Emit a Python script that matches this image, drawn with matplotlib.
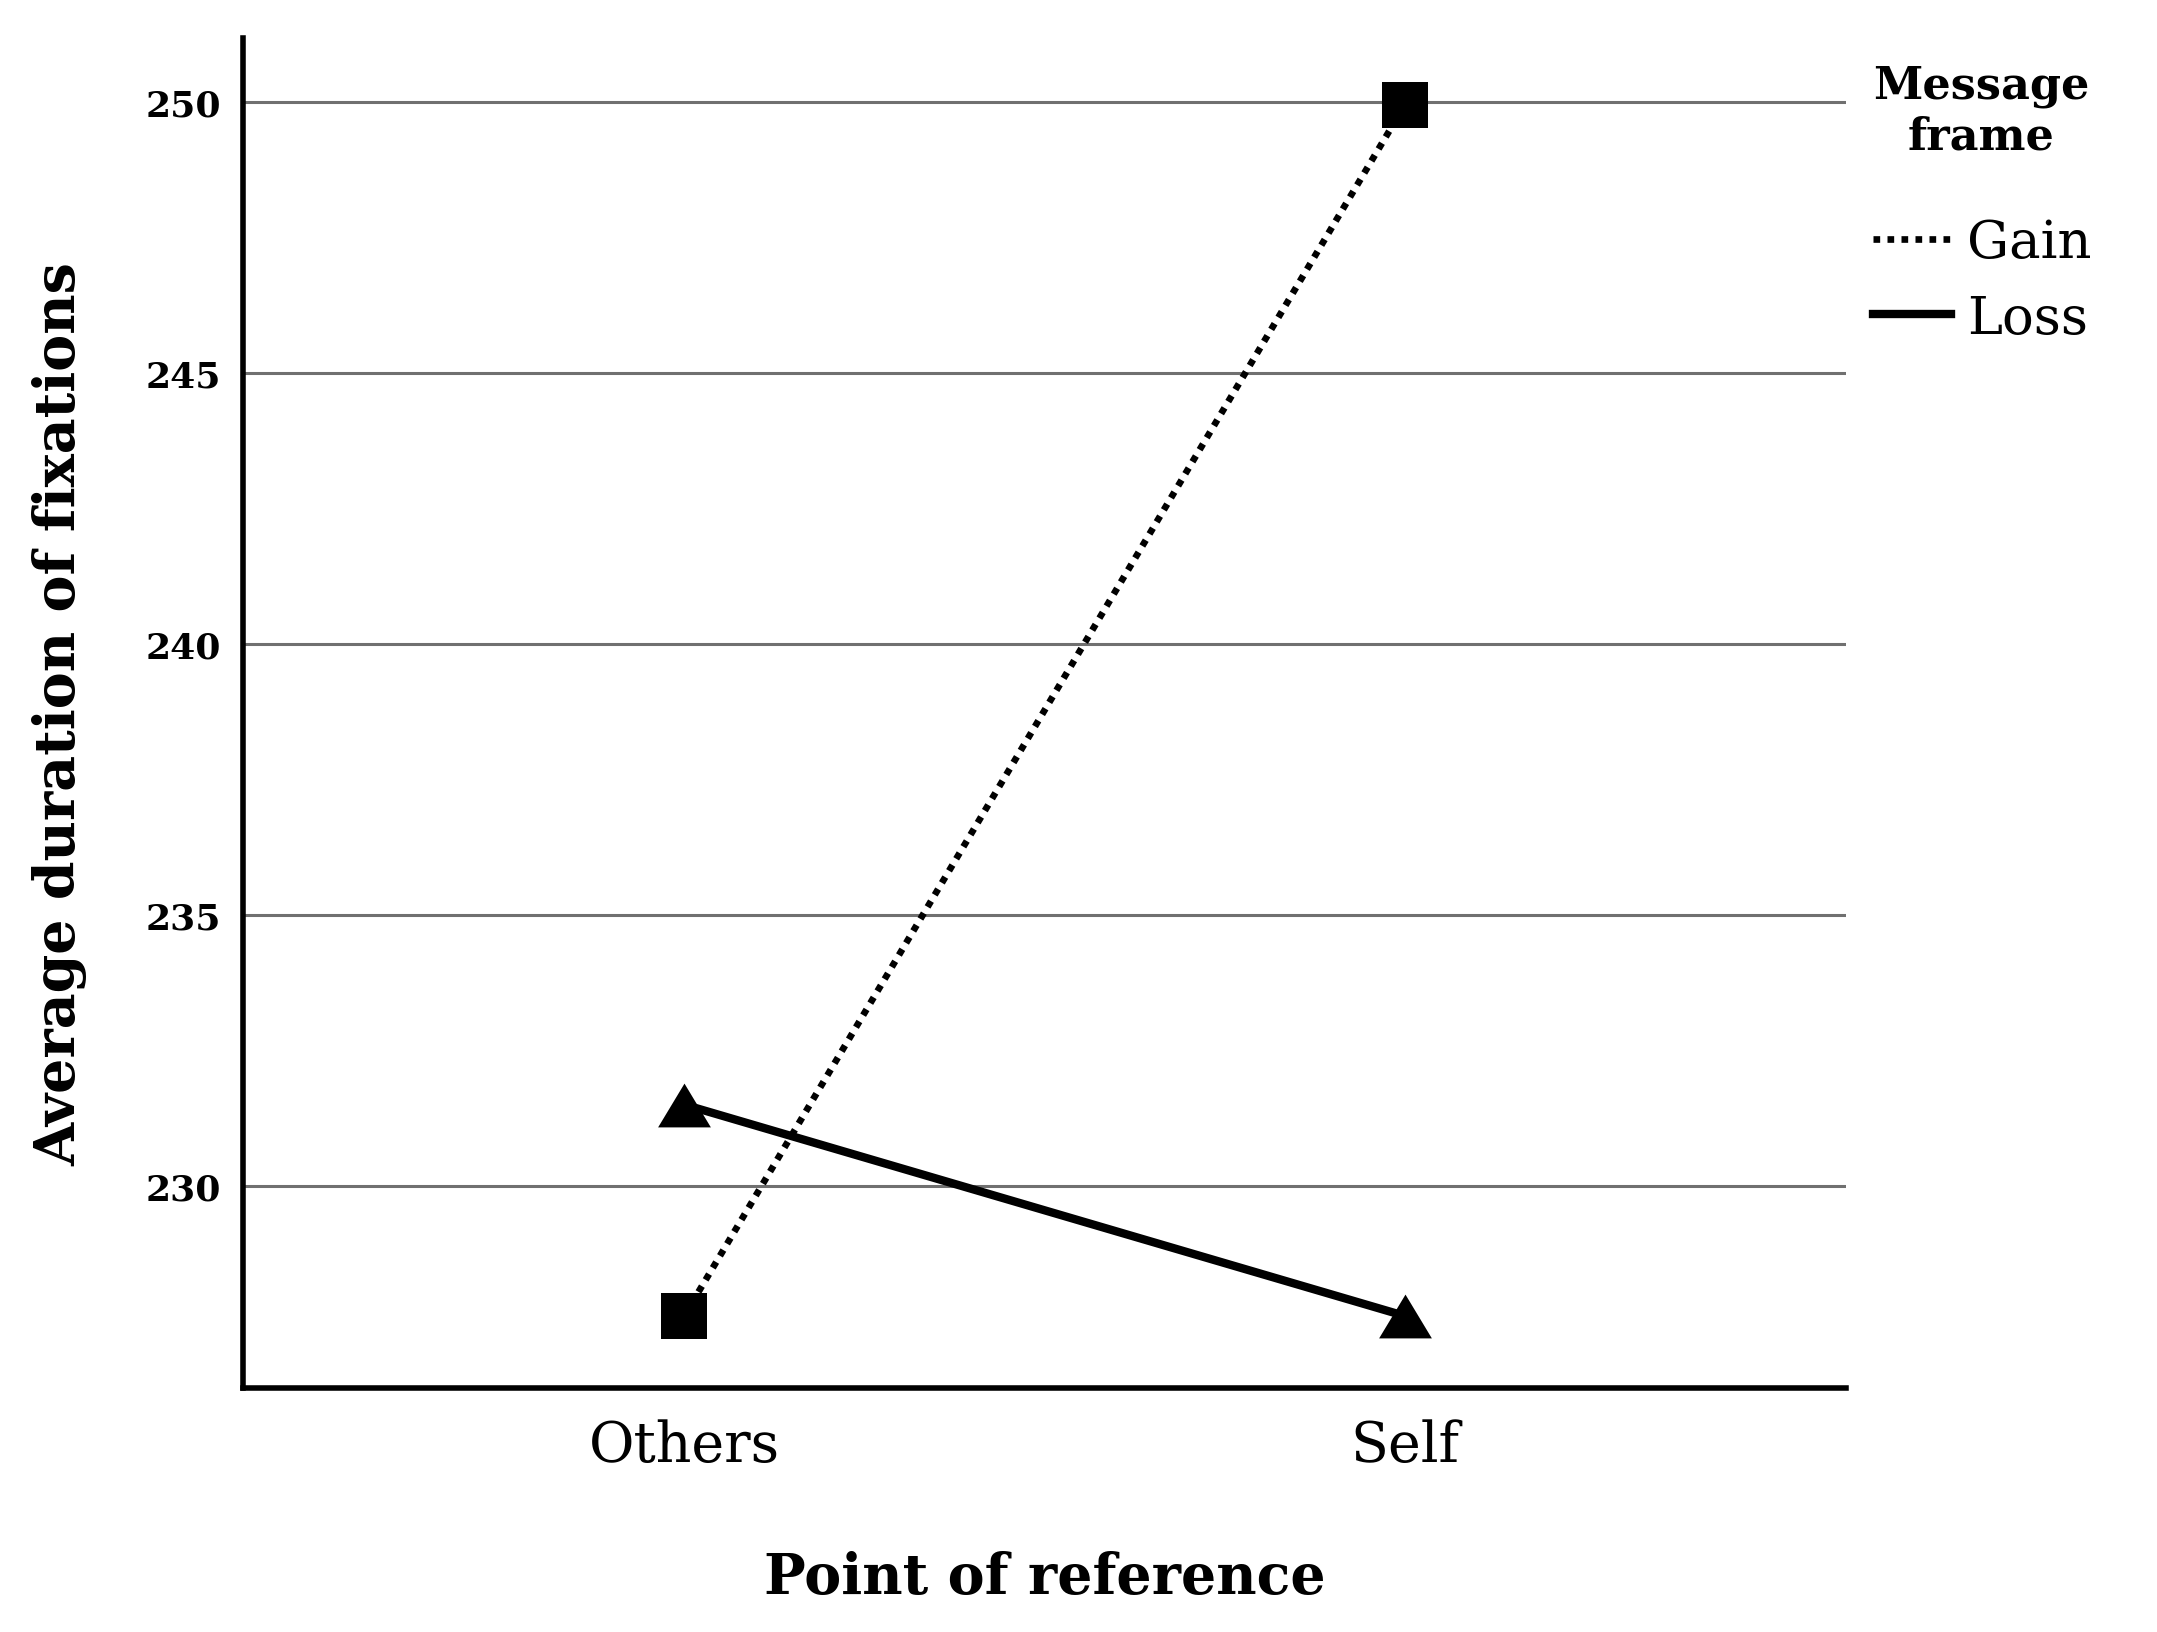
import numpy as np
import matplotlib
matplotlib.use("Agg")
import matplotlib.pyplot as plt

#-----Data-------------------------------------------------------------------
categories = ["Others", "Self"]
gain = [227.6, 249.95]
loss = [231.5, 227.6]
yticks = [230, 235, 240, 245, 250]

plt.rcParams['font.family'] = ['DejaVu Serif']

fig = plt.figure(figsize=(21.57, 16.33), dpi=100)
ax = fig.add_axes([0.1127, 0.1494, 0.8558 - 0.1127, 0.9764 - 0.1494])

x = np.arange(len(categories))

# triangle a bit wider than tall, like the SPSS one
tri = [(-1.0, -0.83), (1.0, -0.83), (0.0, 0.83), (-1.0, -0.83)]

ax.plot(x, gain, linestyle=(0, (1, 1.1)), color='black', linewidth=4.8,
        marker='s', markersize=33, markeredgewidth=0, label='Gain', zorder=3)
ax.plot(x, loss, linestyle='-', color='black', linewidth=6,
        marker=tri, markersize=38, markeredgewidth=0, label='Loss', zorder=3)

ax.set_xlim(-0.612, 1.612)
ax.set_ylim(226.27, 251.19)
ax.set_xticks(x)
ax.set_xticklabels(categories, fontsize=40)
ax.set_yticks(yticks)
ax.set_yticklabels([str(v) for v in yticks], fontsize=26, fontweight='bold')
ax.tick_params(axis='both', length=0)
ax.tick_params(axis='y', pad=16)
ax.tick_params(axis='x', pad=22)

ax.grid(axis='y', color='#707070', linewidth=2.2, zorder=1)
ax.set_axisbelow(True)

for s in ['top', 'right']:
    ax.spines[s].set_visible(False)
for s in ['left', 'bottom']:
    ax.spines[s].set_linewidth(4)
    ax.spines[s].set_color('black')

ax.set_xlabel('Point of reference', fontsize=40, fontweight='bold', labelpad=55)
ax.set_ylabel('Average duration of fixations', fontsize=40, fontweight='bold', labelpad=42)

#-----Legend: title as separate text, entries below------------------------
fig.text(0.9184, 0.960, 'Message\nframe', ha='center', va='top',
         fontsize=32, fontweight='bold', multialignment='center')

leg = ax.legend(loc='center left', bbox_to_anchor=(0.8683, 0.8276),
                bbox_transform=fig.transFigure, frameon=False,
                fontsize=38, handlelength=1.48, handletextpad=0.3,
                labelspacing=0.47, borderaxespad=0, borderpad=0)
for h in leg.get_lines():
    h.set_marker('')

fig.savefig('out.png', dpi=100)
